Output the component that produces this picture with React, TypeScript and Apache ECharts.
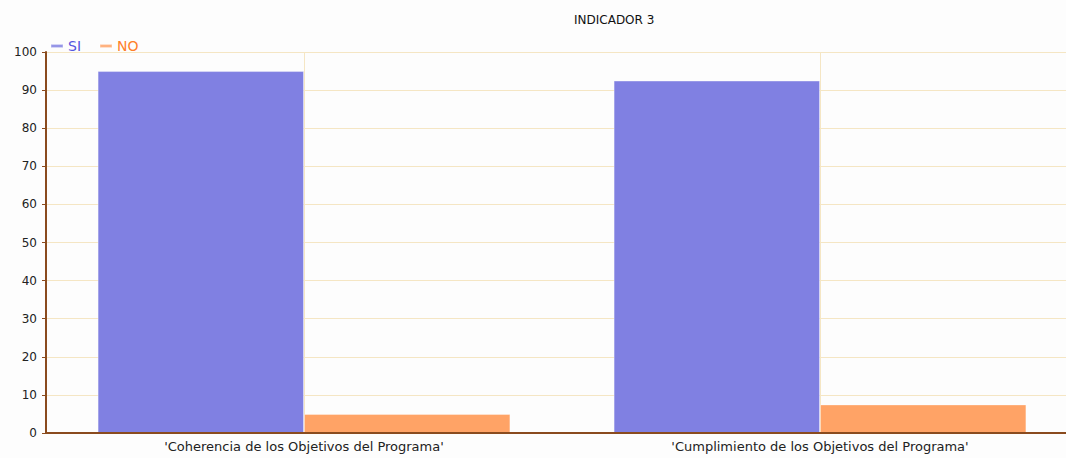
import React, { useEffect, useRef } from "react";
import * as echarts from "echarts";

const categories = [
  "'Coherencia de los Objetivos del Programa'",
  "'Cumplimiento de los Objetivos del Programa'",
];
const siValues = [95, 92.5];
const noValues = [5, 7.5];
const titleText = "INDICADOR 3";
const gridSlots = ["", "a", "", "b", ""];

export default function App() {
  const ref = useRef<HTMLDivElement>(null);
  useEffect(() => {
    if (!ref.current) return;
    const chart = echarts.init(ref.current, undefined, { renderer: "svg" });
    const font = "Verdana, 'DejaVu Sans', sans-serif";
    const gridColor = "#f5e6c4";
    const axisColor = "#8a4b1e";
    chart.setOption({
      animation: false,
      backgroundColor: "#fdfdfd",
      title: {
        text: titleText,
        left: 569,
        top: 9,
        textStyle: { fontFamily: font, fontSize: 12, fontWeight: "normal", color: "#111" },
      },
      legend: {
        left: 45,
        top: 34,
        icon: "rect",
        itemWidth: 12,
        itemHeight: 3,
        itemGap: 18,
        textStyle: { fontFamily: font, fontSize: 14 },
        data: [
          { name: "SI", textStyle: { color: "#5555dd" } },
          { name: "NO", textStyle: { color: "#ff7f2a" } },
        ],
      },
      grid: { left: 46, right: 2, top: 52, bottom: 25 },
      xAxis: [
        {
          type: "category",
          data: categories,
          axisLine: { lineStyle: { color: axisColor, width: 2 } },
          axisTick: { alignWithLabel: true, length: 4, lineStyle: { color: axisColor } },
          axisLabel: { fontFamily: font, fontSize: 13, color: "#222", margin: 7 },
          splitLine: { show: false },
          z: 3,
        },
        {
          type: "category",
          data: gridSlots,
          boundaryGap: false,
          position: "bottom",
          axisLine: { show: false },
          axisTick: { show: false },
          axisLabel: { show: false },
          splitLine: {
            show: true,
            interval: (idx: number) => idx % 2 === 1,
            lineStyle: { color: gridColor, width: 1 },
          },
        },
      ],
      yAxis: {
        type: "value",
        min: 0,
        max: 100,
        interval: 10,
        axisLine: { show: true, lineStyle: { color: axisColor, width: 2 } },
        axisTick: { show: true, length: 4, lineStyle: { color: axisColor } },
        axisLabel: { fontFamily: font, fontSize: 12, color: "#222", margin: 9 },
        splitLine: { lineStyle: { color: gridColor, width: 1 } },
      },
      series: [
        {
          name: "SI",
          type: "bar",
          data: siValues,
          barGap: "0%",
          barCategoryGap: "20%",
          itemStyle: { color: "#8080e2", borderColor: "rgba(255,255,255,0.35)", borderWidth: 1 },
          z: 2,
        },
        {
          name: "NO",
          type: "bar",
          data: noValues,
          itemStyle: { color: "#ffa366", borderColor: "rgba(255,255,255,0.35)", borderWidth: 1 },
          z: 2,
        },
      ],
    });
    return () => chart.dispose();
  }, []);
  return (
    <div
      ref={ref}
      style={{ position: "fixed", left: 0, top: 0, width: 1080, height: 458 }}
    />
  );
}
